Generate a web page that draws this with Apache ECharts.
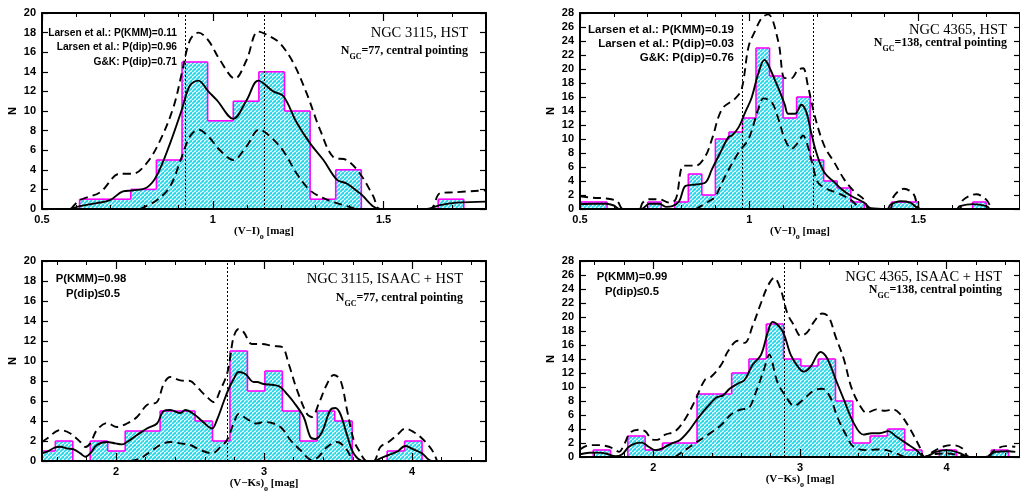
<!DOCTYPE html>
<html><head><meta charset="utf-8">
<script src="https://cdn.jsdelivr.net/npm/echarts@6/dist/echarts.min.js"></script>
<style>html,body{margin:0;padding:0;background:#fff}#c{width:1020px;height:494px}</style>
</head><body><div id="c"></div>
<script>
// ---------------- DATA ----------------
// Panel A: NGC 3115, HST, (V-I)
const histA_start = 0.61, histA_width = 0.075;
const histA_counts = [1,1,2,5,15,9,11,14,10,1,4,0,0,0,1];
const curveA_solid = [[0.582,0],[0.611,0.3],[0.660,0.6],[0.699,0.9],[0.737,1.8],[0.766,1.9],[0.807,2.2],[0.836,3.4],[0.875,6.7],[0.909,10.1],[0.933,12.6],[0.958,13.1],[0.987,12.0],[1.012,11.1],[1.060,9.2],[1.099,11.1],[1.133,13.1],[1.177,12.0],[1.207,11.5],[1.246,8.8],[1.285,6.7],[1.324,5.0],[1.363,3.0],[1.392,2.6],[1.431,1.6],[1.490,0],[1.627,0],[1.665,0.4],[1.714,0.65],[1.80,0.75]];
const curveA_upper = [[0.585,0],[0.611,0.9],[0.670,1.7],[0.728,3.6],[0.766,3.6],[0.807,4.7],[0.846,7.0],[0.885,10.4],[0.909,13.8],[0.933,17.2],[0.958,18.0],[0.987,17.2],[1.021,15.2],[1.065,13.3],[1.099,15.2],[1.133,18.1],[1.168,17.6],[1.197,16.9],[1.236,14.9],[1.275,11.8],[1.314,8.1],[1.353,5.3],[1.392,5.0],[1.431,3.6],[1.470,1.3],[1.490,0],[1.636,0],[1.665,1.6],[1.704,1.7],[1.80,1.9]];
const curveA_lower = [[0.787,0],[0.836,0.9],[0.875,2.3],[0.909,5.3],[0.933,7.4],[0.958,8.1],[0.987,7.4],[1.021,6.0],[1.060,5.0],[1.099,6.4],[1.136,8.1],[1.168,7.4],[1.207,5.9],[1.246,3.6],[1.285,1.9],[1.324,1.1],[1.363,0.6],[1.421,0]];
const vlinesA = [0.92, 1.15];
const textA_left = ['Larsen et al.: P(KMM)=0.11','Larsen et al.: P(dip)=0.96','G&K: P(dip)=0.71'];
const textA_title = 'NGC 3115, HST';
const textA_n = '=77, central pointing';

// Panel B: NGC 4365, HST, (V-I)
const histB_start = 0.50, histB_width = 0.04;
const histB_counts = [1,1,0,0,0,1,0,1,5,2,10,11,13,23,19,13,16,7,4,3,1,0,0,1,1,0,0,0,0,1];
const curveB_solid = [[0.500,0.7],[0.539,0.76],[0.578,0.76],[0.600,0.5],[0.617,0],[0.681,0],[0.705,0.76],[0.734,0.76],[0.754,0.3],[0.773,0.4],[0.793,1.1],[0.812,3.3],[0.842,3.5],[0.871,3.8],[0.890,5.7],[0.915,8.1],[0.939,10.3],[0.949,10.5],[0.969,11.7],[0.988,13.8],[1.007,15.9],[1.027,19.4],[1.045,21.3],[1.056,20.6],[1.076,18.4],[1.095,16.2],[1.105,14.9],[1.115,13.6],[1.135,13.6],[1.154,14.9],[1.169,13.8],[1.183,10.9],[1.198,8.1],[1.222,5.2],[1.252,3.8],[1.271,2.9],[1.300,1.9],[1.340,0.9],[1.359,0.1],[1.408,0],[1.417,0.6],[1.447,1.1],[1.476,0.9],[1.505,0],[1.613,0],[1.622,0.4],[1.661,0.7],[1.701,0.4],[1.710,0]];
const curveB_upper = [[0.500,1.8],[0.539,1.6],[0.578,1.5],[0.610,1.1],[0.627,0],[0.675,0],[0.685,0.9],[0.705,1.4],[0.734,1.4],[0.764,0.9],[0.783,1.4],[0.807,6.2],[0.842,6.2],[0.871,7.6],[0.890,10],[0.920,14.3],[0.959,15.8],[0.978,17.2],[0.998,23.2],[1.017,25.4],[1.037,27.3],[1.056,27.8],[1.086,23.9],[1.105,18.7],[1.125,18.7],[1.144,19.9],[1.159,20.1],[1.173,17.7],[1.193,13.4],[1.222,9.0],[1.252,6.6],[1.281,4.2],[1.310,2.5],[1.340,1.3],[1.354,0],[1.415,0],[1.427,1.8],[1.457,2.9],[1.486,2.1],[1.505,0],[1.620,0],[1.632,1.3],[1.671,2.1],[1.701,1.3],[1.715,0]];
const curveB_lower = [[0.842,0],[0.881,1.1],[0.900,1.8],[0.929,4.7],[0.969,8.1],[0.998,10],[1.027,14.3],[1.042,15.8],[1.066,15.3],[1.086,12.9],[1.105,10],[1.125,8.6],[1.144,9.5],[1.159,10.5],[1.173,9.0],[1.188,6.2],[1.203,3.8],[1.232,2.8],[1.261,2.3],[1.300,1.3],[1.330,0.1],[1.349,0]];
const vlinesB = [0.98, 1.19];
const textB_left = ['Larsen et al.: P(KMM)=0.19','Larsen et al.: P(dip)=0.03','G&K: P(dip)=0.76'];
const textB_title = 'NGC 4365, HST';
const textB_n = '=138, central pointing';

// Panel C: NGC 3115, ISAAC + HST, (V-Ks)
const histC_start = 1.472, histC_width = 0.118;
const histC_counts = [1,2,0,2,1,3,3,5,5,4,2,11,7,9,5,2,5,4,0,0,1,2];
const curveC_solid = [[1.500,0.76],[1.534,0.93],[1.590,1.36],[1.624,1.43],[1.669,1.26],[1.714,1.16],[1.759,0.76],[1.793,0.43],[1.826,0.76],[1.871,1.6],[1.939,1.9],[1.995,1.76],[2.040,1.66],[2.074,1.9],[2.142,2.6],[2.209,3.25],[2.277,3.75],[2.322,5.0],[2.367,5.1],[2.435,4.8],[2.468,5.1],[2.525,4.7],[2.581,4.0],[2.649,3.25],[2.682,4.1],[2.727,5.9],[2.761,7.2],[2.795,8.2],[2.829,8.9],[2.874,8.7],[2.930,7.9],[2.953,7.9],[2.998,7.7],[3.065,7.6],[3.110,7.4],[3.155,6.7],[3.200,5.9],[3.268,4.4],[3.313,2.4],[3.347,2.2],[3.392,2.9],[3.448,5.1],[3.482,5.3],[3.516,4.7],[3.561,2.6],[3.606,0.76],[3.673,0],[3.741,0],[3.786,0.26],[3.842,0.6],[3.899,0.93],[3.955,1.5],[4.011,1.16],[4.068,0.76],[4.135,0],[4.5,0]];
const curveC_upper = [[1.500,1.9],[1.534,2.25],[1.624,3.1],[1.692,2.75],[1.759,1.9],[1.793,1.4],[1.826,1.76],[1.871,3.1],[1.939,3.8],[2.007,3.4],[2.074,3.75],[2.142,4.4],[2.209,5.6],[2.277,5.9],[2.322,7.7],[2.367,8.4],[2.435,8.06],[2.502,8.0],[2.547,7.4],[2.615,6.4],[2.660,5.9],[2.705,7.1],[2.750,8.7],[2.772,10.4],[2.795,12.4],[2.829,13.2],[2.862,12.9],[2.919,11.7],[2.975,11.7],[3.065,11.5],[3.122,11.4],[3.167,9.7],[3.223,7.1],[3.291,4.7],[3.324,4.4],[3.369,5.7],[3.426,7.7],[3.471,8.6],[3.516,8.1],[3.561,5.1],[3.606,2.1],[3.640,1.1],[3.696,0],[3.741,0],[3.786,1.4],[3.842,1.9],[3.899,2.6],[3.955,3.25],[4.011,2.9],[4.068,2.25],[4.135,1.1],[4.169,0]];
const curveC_lower = [[2.097,0],[2.164,0.26],[2.232,0.93],[2.299,1.6],[2.367,1.9],[2.435,1.76],[2.502,1.6],[2.570,1.1],[2.649,0.76],[2.705,1.4],[2.750,2.1],[2.795,3.75],[2.829,4.7],[2.885,4.2],[2.953,3.75],[2.998,3.9],[3.065,3.75],[3.122,3.25],[3.178,2.1],[3.245,1.1],[3.324,0.1],[3.369,0.43],[3.426,1.4],[3.493,1.9],[3.561,1.1],[3.594,0]];
const vlinesC = [2.75];
const textC_left = ['P(KMM)=0.98','P(dip)≤0.5'];
const textC_title = 'NGC 3115, ISAAC + HST';
const textC_n = '=77, central pointing';

// Panel D: NGC 4365, ISAAC + HST, (V-Ks)
const histD_start = 1.472, histD_width = 0.118;
const histD_counts = [0,1,0,3,1,2,2,9,9,12,14,19,14,13,14,8,2,3,4,1,0,1,0,0,1];
const curveD_solid = [[1.500,0.4],[1.563,0.6],[1.619,0.63],[1.676,0.5],[1.743,0.1],[1.788,0.4],[1.833,1.46],[1.878,1.95],[1.923,2.05],[1.968,1.46],[2.013,0.98],[2.058,1.2],[2.126,1.95],[2.182,2.44],[2.239,3.66],[2.306,5.6],[2.374,7.3],[2.430,8.5],[2.475,8.8],[2.520,9.75],[2.577,10.5],[2.622,11.0],[2.678,13.2],[2.734,14.6],[2.780,17.8],[2.813,19.3],[2.880,18.0],[2.937,14.6],[2.993,12.7],[3.027,12.2],[3.072,12.9],[3.140,15.0],[3.185,14.1],[3.241,11.2],[3.297,8.3],[3.365,4.9],[3.432,3.2],[3.489,3.4],[3.545,3.4],[3.601,3.7],[3.658,2.9],[3.725,1.95],[3.793,1.0],[3.849,0],[3.928,0.73],[3.995,0.98],[4.086,0.6],[4.153,0],[4.266,0],[4.333,0.73],[4.423,0.83],[4.468,0.73]];
const curveD_upper = [[1.500,1.07],[1.563,1.7],[1.630,1.7],[1.698,1.46],[1.743,0.98],[1.766,0.73],[1.799,1.7],[1.844,3.5],[1.901,3.9],[1.946,3.66],[1.991,2.5],[2.024,2.44],[2.081,3.2],[2.148,3.66],[2.216,5.4],[2.283,8.0],[2.351,11.0],[2.396,11.5],[2.464,13.2],[2.509,15.1],[2.577,16.6],[2.622,16.3],[2.678,18.8],[2.734,22.0],[2.780,24.4],[2.824,25.6],[2.869,23.9],[2.914,20.5],[2.959,18.8],[3.005,17.3],[3.049,17.8],[3.095,19.3],[3.151,20.5],[3.196,20.0],[3.241,17.3],[3.297,14.1],[3.353,9.76],[3.410,7.3],[3.455,6.3],[3.522,6.8],[3.579,6.6],[3.635,6.8],[3.680,6.2],[3.748,4.1],[3.815,1.46],[3.849,0],[3.905,0.73],[3.973,1.46],[4.041,1.7],[4.108,1.2],[4.153,0],[4.266,0],[4.333,1.07],[4.401,1.56],[4.468,1.46]];
const curveD_lower = [[2.148,0],[2.216,0.98],[2.283,1.95],[2.374,3.2],[2.464,4.6],[2.531,6.1],[2.599,6.8],[2.644,6.9],[2.700,9.3],[2.757,12.7],[2.790,14.6],[2.846,10.7],[2.914,8.3],[2.959,7.3],[3.027,8.3],[3.094,9.5],[3.151,9.76],[3.207,8.5],[3.252,5.85],[3.320,2.9],[3.365,1.46],[3.455,0.98],[3.522,1.07],[3.590,0.98],[3.658,0.5],[3.725,0],[3.860,0],[3.905,0.4],[3.995,0.5],[4.086,0.24],[4.13,0]];
const vlinesD = [2.89];
const textD_left = ['P(KMM)=0.99','P(dip)≤0.5'];
const textD_title = 'NGC 4365, ISAAC + HST';
const textD_n = '=138, central pointing';

// axis tick labels
const ticksVI = [0.5, 1, 1.5];
const ticksVK = [2, 3, 4];

// ---------------- BUILD ----------------
function hatchCanvas() {
  const s = 4;
  const c = document.createElement('canvas'); c.width = s; c.height = s;
  const g = c.getContext('2d');
  g.fillStyle = '#ffffff'; g.fillRect(0, 0, s, s);
  g.strokeStyle = '#22d8ea'; g.lineWidth = 1.9;
  [-s, 0, s].forEach(function (o) { g.beginPath(); g.moveTo(o, s); g.lineTo(o + s, 0); g.stroke(); });
  return c;
}
const hatch = { image: hatchCanvas(), repeat: 'repeat' };

function histItems(start, width, counts) {
  const items = [];
  let prev = 0;
  for (let k = 0; k < counts.length; k++) {
    const x0 = start + k * width;
    items.push([x0, x0 + width, counts[k], prev]);
    prev = counts[k];
  }
  const xe = start + counts.length * width;
  items.push([xe, xe + width, 0, prev]);
  return items;
}

function minorTicks(min, max, step) {
  const out = [];
  const n = Math.round((max - min) / step);
  for (let k = 0; k <= n; k++) out.push(+(min + k * step).toFixed(3));
  return out;
}

const FONT = '"Liberation Sans", Arial, sans-serif';
const SERIF = '"Liberation Serif", "Times New Roman", serif';

const panels = [
  { grid: {left: 42, top: 13, width: 444, height: 196}, xmin: 0.5, xmax: 1.8, ymax: 20, majors: ticksVI, minorStep: 0.1,
    xname: ['(V−I)', ' [mag]'], hist: histItems(histA_start, histA_width, histA_counts),
    solid: curveA_solid, upper: curveA_upper, lower: curveA_lower, vlines: vlinesA },
  { grid: {left: 580, top: 13, width: 444, height: 196}, xmin: 0.5, xmax: 1.8, ymax: 28, majors: ticksVI, minorStep: 0.1,
    xname: ['(V−I)', ' [mag]'], hist: histItems(histB_start, histB_width, histB_counts),
    solid: curveB_solid, upper: curveB_upper, lower: curveB_lower, vlines: vlinesB },
  { grid: {left: 42, top: 261, width: 444, height: 200}, xmin: 1.5, xmax: 4.5, ymax: 20, majors: ticksVK, minorStep: 0.2,
    xname: ['(V−Ks)', ' [mag]'], hist: histItems(histC_start, histC_width, histC_counts),
    solid: curveC_solid, upper: curveC_upper, lower: curveC_lower, vlines: vlinesC },
  { grid: {left: 580, top: 261, width: 444, height: 196}, xmin: 1.5, xmax: 4.5, ymax: 28, majors: ticksVK, minorStep: 0.2,
    xname: ['(V−Ks)', ' [mag]'], hist: histItems(histD_start, histD_width, histD_counts),
    solid: curveD_solid, upper: curveD_upper, lower: curveD_lower, vlines: vlinesD }
];

const grids = [], xAxes = [], yAxes = [], series = [];
const axisLineStyle = { color: '#000', width: 2 };
panels.forEach(function (p, i) {
  grids.push(p.grid);
  const minors = p.minorStep === 0.1 ? minorTicks(0.5, 1.7, 0.1) : minorTicks(1.6, 4.4, 0.2);
  const base = { type: 'value', gridIndex: i, min: p.xmin, max: p.xmax, z: 10, splitLine: { show: false } };
  xAxes.push(Object.assign({}, base, {
    position: 'bottom',
    axisLine: { show: true, onZero: false, lineStyle: axisLineStyle },
    axisTick: { show: true, inside: true, length: 8, customValues: p.majors, lineStyle: { color: '#000', width: 1.2 } },
    axisLabel: { show: true, customValues: p.majors, formatter: function (v) { return String(v); },
      color: '#000', fontFamily: FONT, fontWeight: 'bold', fontSize: 11, margin: 5 },
    name: '{a|' + p.xname[0] + '}{b|o}{a|' + p.xname[1] + '}', nameLocation: 'middle', nameGap: 15,
    nameTextStyle: { rich: {
      a: { fontFamily: SERIF, fontWeight: 'bold', fontSize: 11, color: '#000', lineHeight: 12, verticalAlign: 'top' },
      b: { fontFamily: SERIF, fontWeight: 'bold', fontSize: 8, color: '#000', lineHeight: 15, verticalAlign: 'bottom' } } }
  }));
  xAxes.push(Object.assign({}, base, {
    position: 'bottom', axisLine: { show: false, onZero: false },
    axisTick: { show: true, inside: true, length: 4, customValues: minors, lineStyle: { color: '#000', width: 1 } },
    axisLabel: { show: false }
  }));
  xAxes.push(Object.assign({}, base, {
    position: 'top', axisLine: { show: true, onZero: false, lineStyle: axisLineStyle },
    axisTick: { show: true, inside: true, length: 8, customValues: p.majors, lineStyle: { color: '#000', width: 1.2 } },
    axisLabel: { show: false }
  }));
  xAxes.push(Object.assign({}, base, {
    position: 'top', axisLine: { show: false, onZero: false },
    axisTick: { show: true, inside: true, length: 4, customValues: minors, lineStyle: { color: '#000', width: 1 } },
    axisLabel: { show: false }
  }));
  const ybase = { type: 'value', gridIndex: i, min: 0, max: p.ymax, interval: 2, z: 10, splitLine: { show: false } };
  yAxes.push(Object.assign({}, ybase, {
    position: 'left', axisLine: { show: true, onZero: false, lineStyle: axisLineStyle },
    axisTick: { show: true, inside: true, length: 6, lineStyle: { color: '#000', width: 1.2 } },
    axisLabel: { show: true, color: '#000', fontFamily: FONT, fontWeight: 'bold', fontSize: 11, margin: 6 },
    name: 'N', nameLocation: 'middle', nameRotate: 90, nameGap: 24,
    nameTextStyle: { fontFamily: FONT, fontWeight: 'bold', fontSize: 11, color: '#000' }
  }));
  yAxes.push(Object.assign({}, ybase, {
    position: 'right', axisLine: { show: true, onZero: false, lineStyle: axisLineStyle },
    axisTick: { show: true, inside: true, length: 6, lineStyle: { color: '#000', width: 1.2 } },
    axisLabel: { show: false }
  }));
  const xi = 4 * i, yi = 2 * i;
  series.push({
    type: 'custom', xAxisIndex: xi, yAxisIndex: yi, z: 2, clip: true, silent: true,
    encode: { x: [0, 1], y: 2 },
    data: p.hist,
    renderItem: function (params, api) {
      const x0 = api.value(0), x1 = api.value(1), h = api.value(2), hp = api.value(3);
      const cs = params.coordSys;
      const L = cs.x, R = cs.x + cs.width;
      const pb = api.coord([x0, 0]), pt = api.coord([x1, h]), pp = api.coord([x0, hp]);
      const xa = Math.max(pb[0], L), xb = Math.min(pt[0], R);
      const ch = [];
      const mag = { stroke: '#ff00ff', lineWidth: 1.6 };
      if (h > 0 && xb > xa) {
        ch.push({ type: 'rect', shape: { x: xa, y: pt[1], width: xb - xa, height: pb[1] - pt[1] }, style: { fill: hatch } });
        ch.push({ type: 'line', shape: { x1: xa, y1: pt[1], x2: xb, y2: pt[1] }, style: mag });
      }
      if (h !== hp && pb[0] >= L && pb[0] <= R) {
        ch.push({ type: 'line', shape: { x1: pb[0], y1: pp[1], x2: pb[0], y2: api.coord([x0, h])[1] }, style: mag });
      }
      return { type: 'group', children: ch };
    }
  });
  const lineCommon = { type: 'line', xAxisIndex: xi, yAxisIndex: yi, showSymbol: false, smooth: 0.35, clip: true, silent: true, z: 4 };
  series.push(Object.assign({}, lineCommon, {
    data: p.solid, lineStyle: { color: '#000', width: 1.9 },
    markLine: { silent: true, symbol: ['none', 'none'], label: { show: false },
      lineStyle: { color: '#000', width: 1, type: [2, 2] },
      data: p.vlines.map(function (v) { return { xAxis: v }; }) }
  }));
  series.push(Object.assign({}, lineCommon, { data: p.upper, lineStyle: { color: '#000', width: 1.9, type: [8, 5] } }));
  series.push(Object.assign({}, lineCommon, { data: p.lower, lineStyle: { color: '#000', width: 1.9, type: [8, 5] } }));
});

// ---------------- TEXT ----------------
const graphic = [];
function txt(x, y, s, font, align) {
  graphic.push({ type: 'text', x: x, y: y, z: 20, silent: true,
    style: { text: s, font: font, fill: '#000', align: align || 'left', verticalAlign: 'middle' } });
}
function ngcText(xr, y, rest) {
  graphic.push({ type: 'text', x: xr, y: y, z: 20, silent: true,
    style: { text: '{a|N}{b|GC}{a|' + rest + '}', align: 'right', verticalAlign: 'middle', fill: '#000',
      rich: { a: { fontFamily: SERIF, fontWeight: 'bold', fontSize: 12, lineHeight: 13, verticalAlign: 'top', fill: '#000' },
              b: { fontFamily: SERIF, fontWeight: 'bold', fontSize: 8, lineHeight: 16, verticalAlign: 'bottom', fill: '#000' } } } });
}
const LF_A = 'bold 10.2px ' + FONT;
const LF_B = 'bold 11.5px ' + FONT;
const LF_C = 'bold 11.3px ' + FONT;
const TF = '14.5px ' + SERIF;
// Panel A
txt(177, 33, textA_left[0], LF_A, 'right'); txt(177, 47, textA_left[1], LF_A, 'right'); txt(177, 62, textA_left[2], LF_A, 'right');
txt(468, 33, textA_title, TF, 'right'); ngcText(468, 53, textA_n);
// Panel B
txt(734, 30, textB_left[0], LF_B, 'right'); txt(734, 44, textB_left[1], LF_B, 'right'); txt(734, 58, textB_left[2], LF_B, 'right');
txt(1007, 30, textB_title, TF, 'right'); ngcText(1007, 45, textB_n);
// Panel C
txt(91, 279, textC_left[0], LF_C, 'center'); txt(93, 294, textC_left[1], LF_C, 'center');
txt(463, 279, textC_title, TF, 'right'); ngcText(463, 300, textC_n);
// Panel D
txt(632, 277, textD_left[0], LF_C, 'center'); txt(632, 292, textD_left[1], LF_C, 'center');
txt(1002, 277, textD_title, TF, 'right'); ngcText(1002, 292, textD_n);

const chart = echarts.init(document.getElementById('c'), null, { renderer: 'canvas' });
chart.setOption({
  animation: false, backgroundColor: '#ffffff',
  grid: grids, xAxis: xAxes, yAxis: yAxes, series: series, graphic: graphic
});
</script></body></html>
